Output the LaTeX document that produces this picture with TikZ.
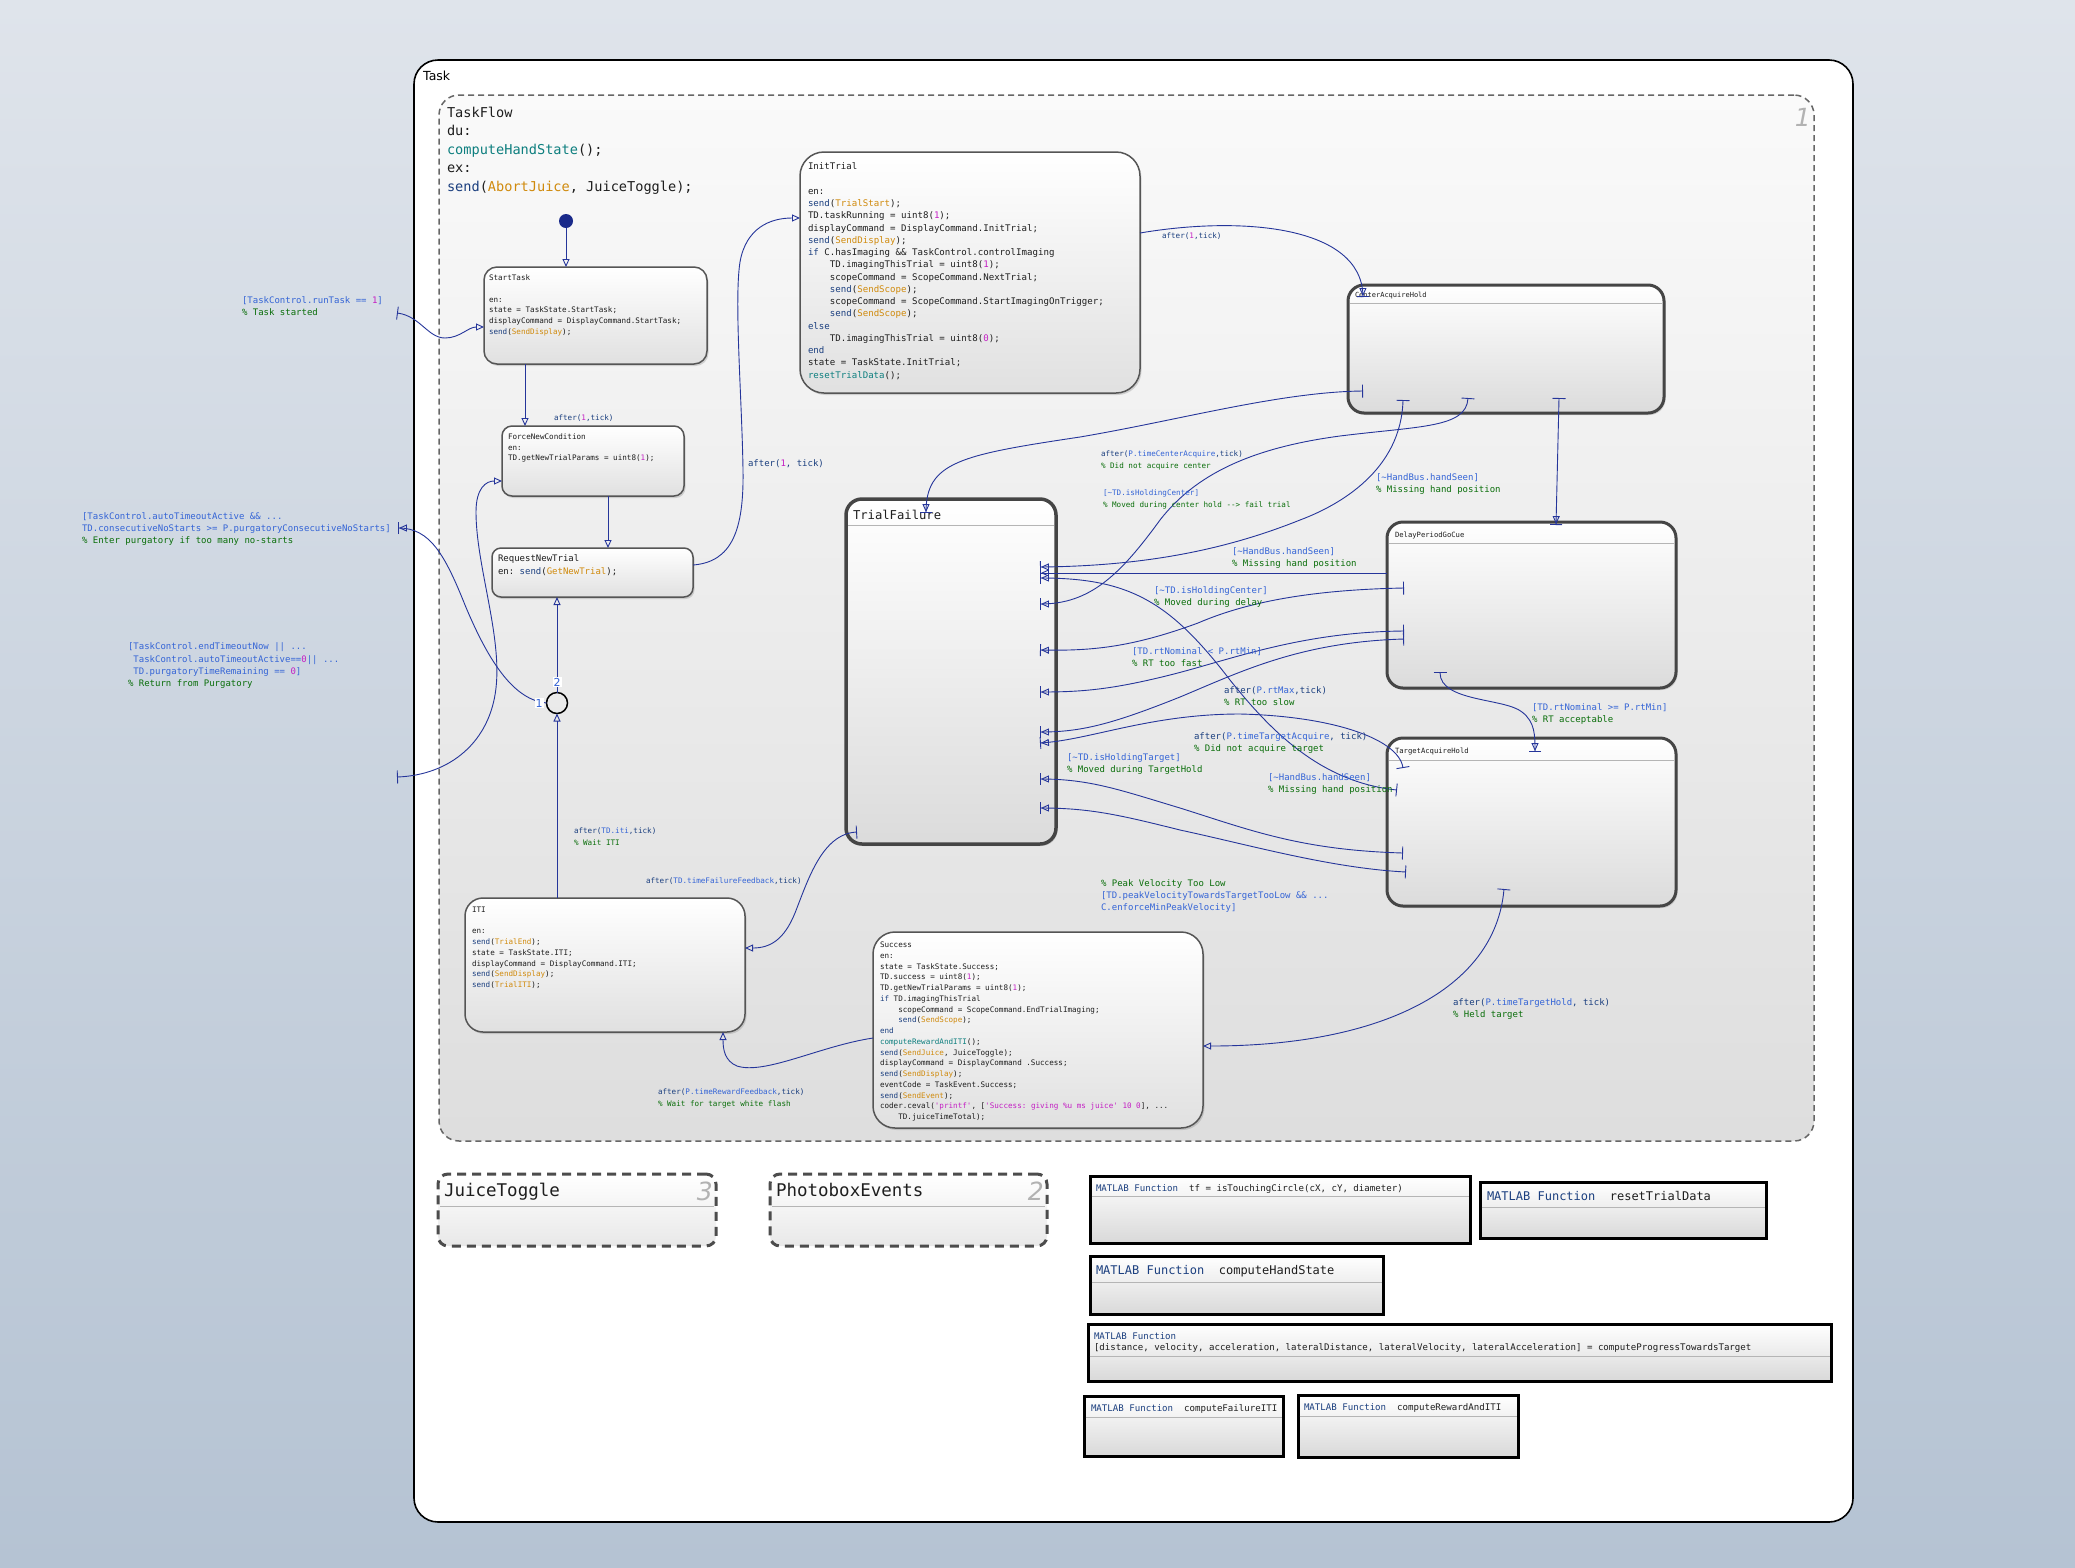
\documentclass[tikz,border=0pt]{standalone}
\usepackage{fontspec}
\setmainfont{DejaVu Sans}
\setsansfont{DejaVu Sans}
\setmonofont{DejaVu Sans Mono}
\usetikzlibrary{arrows.meta,calc,shadows}
\definecolor{kw}{HTML}{1B3F7F}
\definecolor{ev}{HTML}{D08A0C}
\definecolor{nm}{HTML}{C41FC4}
\definecolor{fnc}{HTML}{0E7F7F}
\definecolor{cnd}{HTML}{3464D6}
\definecolor{cmt}{HTML}{0A6E0A}
\definecolor{txtc}{HTML}{1E1E1E}
\definecolor{trc}{HTML}{25359A}
\definecolor{bgtop}{HTML}{DFE4EB}
\definecolor{bgbot}{HTML}{B5C3D3}
\definecolor{stc}{HTML}{555555}
\definecolor{supc}{HTML}{454545}
\definecolor{hdrc}{HTML}{B5B5B5}
\definecolor{dotc}{HTML}{1A2A8A}
\newcommand\Kw[1]{\textcolor{kw}{#1}}
\newcommand\Ev[1]{\textcolor{ev}{#1}}
\newcommand\Nu[1]{\textcolor{nm}{#1}}
\newcommand\Fn[1]{\textcolor{fnc}{#1}}
\newcommand\Cd[1]{\textcolor{cnd}{#1}}
\newcommand\Cm[1]{\textcolor{cmt}{#1}}
\newcommand\FS[2]{\fontsize{#1}{#2}\selectfont}
\newcommand\IN{\phantom{xxxx}}
\tikzset{
  st/.style={draw=stc, line width=1.5pt, rounded corners=13pt, top color=white, bottom color=black!12,
    anchor=north west, inner sep=0pt, outer sep=0pt,
    drop shadow={shadow xshift=1.5pt, shadow yshift=-2pt, opacity=0.3}},
  sup/.style={st, line width=3pt, draw=supc, rounded corners=16pt, bottom color=black!14},
  hdr/.style={draw=hdrc, line width=0.8pt},
  txt/.style={anchor=north west, inner sep=0pt, outer sep=0pt, align=left, text=txtc},
  lbl/.style={txt, font=\ttfamily\FS{9}{12}},
  lbs/.style={txt, font=\ttfamily\FS{7.6}{11.3}},
  tr/.style={draw=trc, line width=0.9pt},
  ah/.style={tr, arrows={-{Triangle[open,length=8pt,width=7pt]}}},
  ahb/.style={tr, arrows={-{Triangle[open,length=8pt,width=7pt] Bar[width=12pt]}}},
  bah/.style={tr, arrows={{Bar[width=13pt]}-{Triangle[open,length=8pt,width=7pt]}}},
  bahb/.style={tr, arrows={{Bar[width=13pt]}-{Triangle[open,length=8pt,width=7pt] Bar[width=12pt]}}},
  fnb/.style={draw=black, line width=3pt, top color=white, bottom color=black!15,
    anchor=north west, inner sep=0pt, outer sep=0pt,
    drop shadow={shadow xshift=1.5pt, shadow yshift=-2pt, opacity=0.25}},
  dsh/.style={draw=black!70, line width=3pt, dash pattern=on 9pt off 6pt, rounded corners=10pt,
    top color=white, bottom color=black!9, anchor=north west, inner sep=0pt, outer sep=0pt},
  jl/.style={fill=white, inner sep=1pt, text=cnd, font=\sffamily\FS{11}{12}},
  bignum/.style={anchor=east, inner sep=0pt, text=black!30, font=\sffamily\itshape\FS{25}{27}}
}
\begin{document}
\begin{tikzpicture}[x=1pt,y=-1pt]
\useasboundingbox (0,0) rectangle (2075,1567);
\shade[top color=bgtop, bottom color=bgbot] (0,0) rectangle (2075,1567);

% outer chart boxes
\node[draw=black, line width=1.6pt, fill=white, rounded corners=24pt, anchor=north west,
  inner sep=0pt, outer sep=0pt, minimum width=1439pt, minimum height=1462pt] (Task) at (414,60) {};
\node[anchor=west, inner sep=0pt, font=\sffamily\FS{12.5}{14}] (TaskLbl) at (423,76) {Task};
\node[draw=black!60, line width=1.5pt, dash pattern=on 6pt off 4pt, rounded corners=20pt,
  top color=black!2, bottom color=black!13, anchor=north west, inner sep=0pt, outer sep=0pt,
  minimum width=1375pt, minimum height=1046pt] (TaskFlow) at (439,95) {};
\node[bignum] (TFnum) at (1811,117) {1};
\node[txt, font=\ttfamily\FS{13.6}{18.5}] (TaskFlowTxt) at (447,107)
  {TaskFlow\\du:\\\Fn{computeHandState}();\\ex:\\\Kw{send}(\Ev{AbortJuice}, JuiceToggle);};

% states
\node[st, minimum width=223pt, minimum height=97pt] (StartTask) at (484,267) {};
\node[txt, font=\ttfamily\FS{7.6}{10.7}] (StartTaskTxt) at (489,275)
  {StartTask\\\mbox{}\\en:\\state = TaskState.StartTask;\\displayCommand = DisplayCommand.StartTask;\\\Kw{send}(\Ev{SendDisplay});};

\node[st, minimum width=182pt, minimum height=70pt, rounded corners=10pt] (FNC) at (502,426) {};
\node[txt, font=\ttfamily\FS{7.6}{10.5}] (FNCTxt) at (508,434)
  {ForceNewCondition\\en:\\TD.getNewTrialParams = uint8(\Nu{1});};

\node[st, minimum width=201pt, minimum height=49pt, rounded corners=9pt] (RNT) at (492,548) {};
\node[txt, font=\ttfamily\FS{9}{13}] (RNTTxt) at (498,555)
  {RequestNewTrial\\en: \Kw{send}(\Ev{GetNewTrial});};

\node[st, minimum width=340pt, minimum height=241pt, rounded corners=24pt] (InitTrial) at (800,152) {};
\node[txt, font=\ttfamily\FS{9.1}{12.24}] (InitTrialTxt) at (808,163)
  {InitTrial\\\mbox{}\\en:\\\Kw{send}(\Ev{TrialStart});\\TD.taskRunning = uint8(\Nu{1});\\displayCommand = DisplayCommand.InitTrial;\\\Kw{send}(\Ev{SendDisplay});\\\Kw{if} C.hasImaging \&\& TaskControl.controlImaging\\\IN TD.imagingThisTrial = uint8(\Nu{1});\\\IN scopeCommand = ScopeCommand.NextTrial;\\\IN\Kw{send}(\Ev{SendScope});\\\IN scopeCommand = ScopeCommand.StartImagingOnTrigger;\\\IN\Kw{send}(\Ev{SendScope});\\\Kw{else}\\\IN TD.imagingThisTrial = uint8(\Nu{0});\\\Kw{end}\\state = TaskState.InitTrial;\\\Fn{resetTrialData}();};

\node[sup, minimum width=316pt, minimum height=128pt] (CAH) at (1348,285) {};
\draw[hdr] ($(CAH.north west)+(2,18)$) -- ($(CAH.north east)+(-2,18)$);
\node[txt, font=\ttfamily\FS{7}{9}] (CAHTxt) at (1355,292) {CenterAcquireHold};

\node[sup, minimum width=289pt, minimum height=166pt] (DPG) at (1387,522) {};
\draw[hdr] ($(DPG.north west)+(2,21)$) -- ($(DPG.north east)+(-2,21)$);
\node[txt, font=\ttfamily\FS{7.2}{9}] (DPGTxt) at (1395,532) {DelayPeriodGoCue};

\node[sup, minimum width=289pt, minimum height=168pt] (TAH) at (1387,738) {};
\draw[hdr] ($(TAH.north west)+(2,22)$) -- ($(TAH.north east)+(-2,22)$);
\node[txt, font=\ttfamily\FS{7.2}{9}] (TAHTxt) at (1395,748) {TargetAcquireHold};

\node[sup, line width=3.5pt, minimum width=210pt, minimum height=345pt] (TF) at (846,499) {};
\draw[hdr] ($(TF.north west)+(2,26)$) -- ($(TF.north east)+(-2,26)$);
\node[txt, font=\ttfamily\FS{12.2}{14}] (TFTxt) at (853,510) {TrialFailure};

\node[st, minimum width=280pt, minimum height=134pt, rounded corners=18pt] (ITI) at (465,898) {};
\node[txt, font=\ttfamily\FS{7.6}{10.7}] (ITITxt) at (472,907)
  {ITI\\\mbox{}\\en:\\\Kw{send}(\Ev{TrialEnd});\\state = TaskState.ITI;\\displayCommand = DisplayCommand.ITI;\\\Kw{send}(\Ev{SendDisplay});\\\Kw{send}(\Ev{TrialITI});};

\node[st, minimum width=330pt, minimum height=196pt, rounded corners=22pt] (Success) at (873,932) {};
\node[txt, font=\ttfamily\FS{7.6}{10.75}] (SuccessTxt) at (880,942)
  {Success\\en:\\state = TaskState.Success;\\TD.success = uint8(\Nu{1});\\TD.getNewTrialParams = uint8(\Nu{1});\\\Kw{if} TD.imagingThisTrial\\\IN scopeCommand = ScopeCommand.EndTrialImaging;\\\IN\Kw{send}(\Ev{SendScope});\\\Kw{end}\\\Fn{computeRewardAndITI}();\\\Kw{send}(\Ev{SendJuice}, JuiceToggle);\\displayCommand = DisplayCommand .Success;\\\Kw{send}(\Ev{SendDisplay});\\eventCode = TaskEvent.Success;\\\Kw{send}(\Ev{SendEvent});\\coder.ceval(\Nu{'printf'}, [\Nu{'Success: giving \%u ms juice' 10 0}], ...\\\IN TD.juiceTimeTotal);};

% junction and default transition
\node[circle, draw=black, line width=1.5pt, minimum size=21pt, inner sep=0pt, outer sep=0pt] (J) at (557,703) {};
\node[circle, fill=dotc, minimum size=14pt, inner sep=0pt] (init) at (566,221) {};

\coordinate (tIn) at (397,313);
\coordinate (pOut) at (398,528);
\coordinate (pIn) at (397,777);

% transitions
\draw[ah] (init) -- ($(StartTask.north west)+(82,0)$);
\draw[bah] (tIn) .. controls (420,316) and (428,338) .. (445,338) .. controls (460,338) and (468,327) .. ($(StartTask.north west)+(0,60)$);
\draw[ah] ($(StartTask.north west)+(41,97)$) -- ($(FNC.north west)+(23,0)$);
\draw[ah] ($(FNC.north west)+(106,70)$) -- ($(RNT.north west)+(116,0)$);
\draw[ah] ($(RNT.north west)+(201,17)$) .. controls (732,562) and (744,530) .. (743,470) .. controls (742,400) and (734,300) .. (740,262) .. controls (746,228) and (770,218) .. ($(InitTrial.north west)+(0,66)$);
\draw[ahb] ($(InitTrial.north west)+(340,81)$) .. controls (1240,216) and (1362,225) .. ($(CAH.north west)+(15,12)$);
\draw[bahb] ($(CAH.north west)+(15,106)$) .. controls (1280,392) and (1180,420) .. (1080,437) .. controls (960,455) and (926,462) .. ($(TF.north west)+(80,14)$);
\draw[bahb] ($(CAH.north west)+(55,115)$) .. controls (1401,470) and (1340,505) .. (1300,520) .. controls (1230,548) and (1150,566) .. ($(TF.north west)+(194,68)$);
\draw[bahb] ($(CAH.north west)+(120,113)$) .. controls (1466,428) and (1420,426) .. (1340,436) .. controls (1250,448) and (1195,475) .. (1160,520) .. controls (1120,575) and (1090,604) .. ($(TF.north west)+(194,105)$);
\draw[bahb] ($(CAH.north west)+(211,113)$) -- ($(DPG.north west)+(169,3)$);
\draw[ahb] ($(DPG.north west)+(0,51)$) -- ($(TF.north west)+(194,74)$);
\draw[bahb] ($(DPG.north west)+(17,66)$) .. controls (1300,590) and (1240,605) .. (1198,623) .. controls (1130,648) and (1090,651) .. ($(TF.north west)+(194,151)$);
\draw[bahb] ($(DPG.north west)+(17,109)$) .. controls (1300,632) and (1230,660) .. (1170,675) .. controls (1110,690) and (1080,692) .. ($(TF.north west)+(194,193)$);
\draw[bahb] ($(DPG.north west)+(17,117)$) .. controls (1300,642) and (1240,672) .. (1180,697) .. controls (1110,725) and (1080,732) .. ($(TF.north west)+(194,233)$);
\draw[bahb] ($(TAH.north west)+(16,30)$) .. controls (1398,738) and (1330,716) .. (1240,714) .. controls (1150,714) and (1090,740) .. ($(TF.north west)+(194,244)$);
\draw[bahb] ($(TAH.north west)+(10,52)$) .. controls (1320,782) and (1270,730) .. (1230,680) .. controls (1170,602) and (1130,578) .. ($(TF.north west)+(194,79)$);
\draw[bahb] ($(TAH.north west)+(16,115)$) .. controls (1300,850) and (1250,830) .. (1180,808) .. controls (1120,790) and (1090,779) .. ($(TF.north west)+(194,280)$);
\draw[bahb] ($(TAH.north west)+(19,134)$) .. controls (1330,868) and (1250,845) .. (1180,830) .. controls (1120,815) and (1090,808) .. ($(TF.north west)+(194,309)$);
\draw[bahb] ($(DPG.north west)+(53,150)$) .. controls (1440,702) and (1505,698) .. (1522,712) .. controls (1535,722) and (1535,735) .. ($(TAH.north west)+(148,14)$);
\draw[bah] ($(TAH.north west)+(117,151)$) .. controls (1495,990) and (1380,1046) .. ($(Success.north west)+(330,114)$);
\draw[bah] ($(TF.north west)+(11,333)$) .. controls (822,834) and (808,880) .. (795,913) .. controls (784,940) and (770,948) .. ($(ITI.north west)+(280,50)$);
\draw[ah] ($(Success.north west)+(0,106)$) .. controls (820,1046) and (765,1075) .. (737,1066) .. controls (725,1061) and (723,1050) .. ($(ITI.north west)+(258,134)$);
\draw[ah] ($(ITI.north west)+(92,0)$) -- (J.south);
\draw[ah] (J.north) -- ($(RNT.north west)+(65,49)$);
\draw[ahb] (J.west) .. controls (515,700) and (490,665) .. (465,605) .. controls (445,555) and (430,528) .. (pOut);
\draw[bah] (pIn) .. controls (450,775) and (490,742) .. (496,688) .. controls (502,635) and (476,565) .. (476,512) .. controls (476,488) and (486,481) .. ($(FNC.north west)+(0,55)$);
\node[jl] (j2) at (557,682) {2};
\node[jl] (j1) at (539,703) {1};

% transition labels
\node[lbl] (lRun) at (242,297) {\Cd{[TaskControl.runTask == }\Nu{1}\Cd{]}\\\Cm{\% Task started}};
\node[lbl] (lPurgIn) at (82,513) {\Cd{[TaskControl.autoTimeoutActive \&\& ...}\\\Cd{TD.consecutiveNoStarts >= P.purgatoryConsecutiveNoStarts]}\\\Cm{\% Enter purgatory if too many no-starts}};
\node[txt, font=\ttfamily\FS{9}{12.3}] (lPurgOut) at (128,643) {\Cd{[TaskControl.endTimeoutNow || ...}\\\phantom{[}\Cd{TaskControl.autoTimeoutActive==}\Nu{0}\Cd{ || ...}\\\phantom{[}\Cd{TD.purgatoryTimeRemaining == }\Nu{0}\Cd{]}\\\Cm{\% Return from Purgatory}};
\node[lbs] (lFNC) at (554,415) {\Kw{after(}\Nu{1}\Kw{,tick)}};
\node[lbl] (lRNT) at (748,460) {\Kw{after(}\Nu{1}\Kw{, tick)}};
\node[lbs] (lInit) at (1162,233) {\Kw{after(}\Nu{1}\Kw{,tick)}};
\node[lbs] (lCenterAcq) at (1101,451) {\Kw{after(}\Cd{P.timeCenterAcquire}\Kw{,tick)}\\\Cm{\% Did not acquire center}};
\node[lbs] (lCenterHold) at (1103,490) {\Cd{[\textasciitilde TD.isHoldingCenter]}\\\Cm{\% Moved during center hold --> fail trial}};
\node[lbl] (lCAHhand) at (1376,474) {\Cd{[\textasciitilde HandBus.handSeen]}\\\Cm{\% Missing hand position}};
\node[lbl] (lDPGhand) at (1232,548) {\Cd{[\textasciitilde HandBus.handSeen]}\\\Cm{\% Missing hand position}};
\node[lbl] (lDPGhold) at (1154,587) {\Cd{[\textasciitilde TD.isHoldingCenter]}\\\Cm{\% Moved during delay}};
\node[lbl] (lFast) at (1132,648) {\Cd{[TD.rtNominal < P.rtMin]}\\\Cm{\% RT too fast}};
\node[lbl] (lSlow) at (1224,687) {\Kw{after(}\Cd{P.rtMax}\Kw{,tick)}\\\Cm{\% RT too slow}};
\node[lbl] (lTgtAcq) at (1194,733) {\Kw{after(}\Cd{P.timeTargetAcquire}\Kw{, tick)}\\\Cm{\% Did not acquire target}};
\node[lbl] (lTgtHold) at (1067,754) {\Cd{[\textasciitilde TD.isHoldingTarget]}\\\Cm{\% Moved during TargetHold}};
\node[lbl] (lTAHhand) at (1268,774) {\Cd{[\textasciitilde HandBus.handSeen]}\\\Cm{\% Missing hand position}};
\node[lbl] (lOK) at (1532,704) {\Cd{[TD.rtNominal >= P.rtMin]}\\\Cm{\% RT acceptable}};
\node[lbl] (lPeak) at (1101,880) {\Cm{\% Peak Velocity Too Low}\\\Cd{[TD.peakVelocityTowardsTargetTooLow \&\& ...}\\\Cd{C.enforceMinPeakVelocity]}};
\node[lbl] (lHeld) at (1453,999) {\Kw{after(}\Cd{P.timeTargetHold}\Kw{, tick)}\\\Cm{\% Held target}};
\node[lbs] (lITI) at (574,828) {\Kw{after(}\Cd{TD.iti}\Kw{,tick)}\\\Cm{\% Wait ITI}};
\node[lbs] (lFail) at (646,878) {\Kw{after(}\Cd{TD.timeFailureFeedback}\Kw{,tick)}};
\node[lbs] (lReward) at (658,1089) {\Kw{after(}\Cd{P.timeRewardFeedback}\Kw{,tick)}\\\Cm{\% Wait for target white flash}};

% parallel subcharts
\node[dsh, minimum width=278pt, minimum height=72pt] (Juice) at (438,1174) {};
\draw[hdr] ($(Juice.north west)+(2,32)$) -- ($(Juice.north east)+(-2,32)$);
\node[txt, font=\ttfamily\FS{17.5}{19}] (JuiceTxt) at (444,1183) {JuiceToggle};
\node[bignum] (JuiceNum) at (713,1191) {3};
\node[dsh, minimum width=277pt, minimum height=72pt] (Photo) at (770,1174) {};
\draw[hdr] ($(Photo.north west)+(2,32)$) -- ($(Photo.north east)+(-2,32)$);
\node[txt, font=\ttfamily\FS{17.5}{19}] (PhotoTxt) at (776,1183) {PhotoboxEvents};
\node[bignum] (PhotoNum) at (1044,1191) {2};

% MATLAB functions
\node[fnb, minimum width=380pt, minimum height=67pt] (fTouch) at (1090,1176) {};
\draw[hdr] ($(fTouch.north west)+(1.5,20)$) -- ($(fTouch.north east)+(-1.5,20)$);
\node[txt, font=\ttfamily\FS{9.1}{11}] (fTouchTxt) at (1096,1185) {\Kw{MATLAB Function}\ \ tf = isTouchingCircle(cX, cY, diameter)};

\node[fnb, minimum width=286pt, minimum height=56pt] (fReset) at (1480,1182) {};
\draw[hdr] ($(fReset.north west)+(1.5,25)$) -- ($(fReset.north east)+(-1.5,25)$);
\node[txt, font=\ttfamily\FS{12}{14}] (fResetTxt) at (1487,1191) {\Kw{MATLAB Function}\ \ resetTrialData};

\node[fnb, minimum width=293pt, minimum height=58pt] (fHand) at (1090,1256) {};
\draw[hdr] ($(fHand.north west)+(1.5,26)$) -- ($(fHand.north east)+(-1.5,26)$);
\node[txt, font=\ttfamily\FS{12}{14}] (fHandTxt) at (1096,1265) {\Kw{MATLAB Function}\ \ computeHandState};

\node[fnb, minimum width=743pt, minimum height=57pt] (fProg) at (1088,1324) {};
\draw[hdr] ($(fProg.north west)+(1.5,32)$) -- ($(fProg.north east)+(-1.5,32)$);
\node[txt, font=\ttfamily\FS{9.1}{11}] (fProgTxt) at (1094,1333) {\Kw{MATLAB Function}\\{[}distance, velocity, acceleration, lateralDistance, lateralVelocity, lateralAcceleration] = computeProgressTowardsTarget};

\node[fnb, minimum width=199pt, minimum height=60pt] (fFail) at (1084,1396) {};
\draw[hdr] ($(fFail.north west)+(1.5,21)$) -- ($(fFail.north east)+(-1.5,21)$);
\node[txt, font=\ttfamily\FS{9.1}{11}] (fFailTxt) at (1091,1405) {\Kw{MATLAB Function}\ \ computeFailureITI};

\node[fnb, minimum width=220pt, minimum height=62pt] (fRew) at (1298,1395) {};
\draw[hdr] ($(fRew.north west)+(1.5,21)$) -- ($(fRew.north east)+(-1.5,21)$);
\node[txt, font=\ttfamily\FS{9.1}{11}] (fRewTxt) at (1304,1404) {\Kw{MATLAB Function}\ \ computeRewardAndITI};
\end{tikzpicture}
\end{document}
